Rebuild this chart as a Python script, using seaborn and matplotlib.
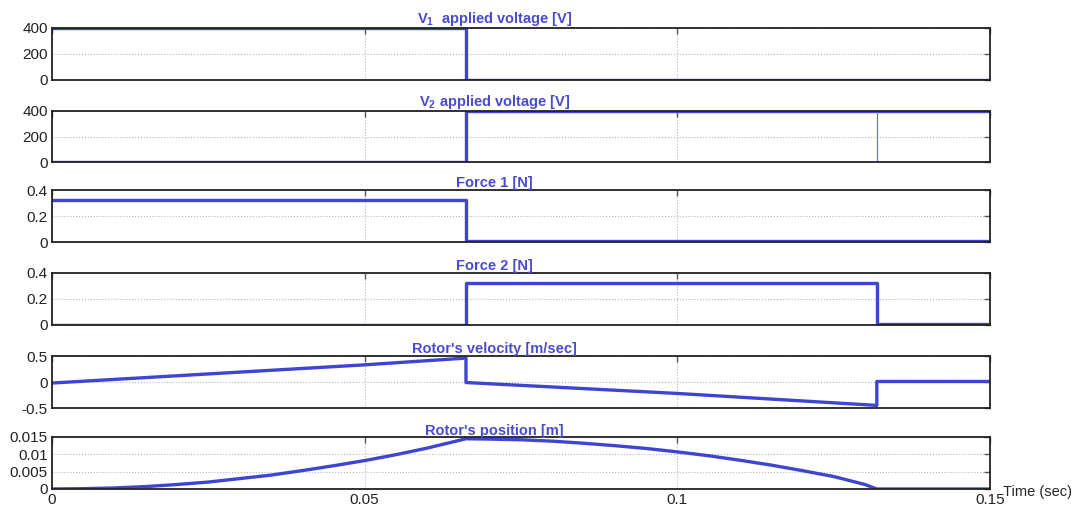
import numpy as np
import pandas as pd
import matplotlib
matplotlib.use('Agg')
import matplotlib.pyplot as plt
import seaborn as sns

# switching instants (sec)
t_on = 0.0662
t_off = 0.1319
t_end = 0.15

# V1 / V2 applied voltage (steps)
v1_t = [0.0, t_on, t_end]
v1 = [400, 0, 0]
v2_t = [0.0, t_on, t_end]
v2 = [0, 400, 400]
# thin glitch trace on V2 at t_off
v2g_t = [t_off, t_off, t_end]
v2g = [400, 0, 0]

# forces (steps)
f1_t = [0.0, t_on, t_end]
f1 = [0.32, 0.01, 0.01]
f2_t = [0.0, t_on, t_off, t_end]
f2 = [0.0, 0.32, 0.01, 0.01]

# rotor velocity
vel_t = [0.0, 0.05, t_on, t_on, 0.1, t_off, t_off, t_end]
vel = [-0.02, 0.33, 0.46, -0.01, -0.22, -0.45, 0.01, 0.01]

# rotor position
pos_t = [0.0, 0.005, 0.01, 0.015, 0.02, 0.025, 0.03, 0.035, 0.04, 0.045, 0.05,
         0.055, 0.06, t_on, 0.07, 0.075, 0.08, 0.085, 0.09, 0.095, 0.10, 0.105,
         0.11, 0.115, 0.12, 0.125, 0.13, t_off, t_end]
pos = [0.0, 0.0001, 0.0003, 0.0007, 0.0013, 0.002, 0.003, 0.004, 0.0053,
       0.0067, 0.0082, 0.0099, 0.0118, 0.0145, 0.0144, 0.0142, 0.0138, 0.0132,
       0.0125, 0.0117, 0.0107, 0.0096, 0.0083, 0.0069, 0.0053, 0.0036, 0.0013,
       0.0, 0.0]

titles = [r'$\mathbf{V_1}$  applied voltage [V]', r'$\mathbf{V_2}$ applied voltage [V]',
          'Force 1 [N]', 'Force 2 [N]', "Rotor's velocity [m/sec]", "Rotor's position [m]"]
ylims = [(0, 400), (0, 400), (0, 0.4), (0, 0.4), (-0.5, 0.5), (0, 0.015)]
yticks = [[0, 200, 400], [0, 200, 400], [0, 0.2, 0.4], [0, 0.2, 0.4],
          [-0.5, 0, 0.5], [0, 0.005, 0.01, 0.015]]
yticklabels = [['0', '200', '400'], ['0', '200', '400'], ['0', '0.2', '0.4'],
               ['0', '0.2', '0.4'], ['-0.5', '0', '0.5'], ['0', '0.005', '0.01', '0.015']]
xticks = [0, 0.05, 0.1, 0.15]
xticklabels = ['0', '0.05', '0.1', '0.15']

sns.set_style('white')
plt.rcParams['font.family'] = ['Liberation Sans', 'DejaVu Sans']
plt.rcParams['mathtext.fontset'] = 'custom'
plt.rcParams['mathtext.rm'] = 'Liberation Sans'
plt.rcParams['mathtext.bf'] = 'Liberation Sans:bold'

blue = '#3f45d0'
title_blue = '#4a4ccc'

W, H = 1077, 508
fig = plt.figure(figsize=(W / 100, H / 100), dpi=100)

# panel top/bottom in pixels
panels = [(28, 80), (111, 162), (190, 242), (273, 325), (356, 408), (437, 489)]
x0, x1 = 52, 990

series = [
    (v1_t, v1, 'steps-post'),
    (v2_t, v2, 'steps-post'),
    (f1_t, f1, 'steps-post'),
    (f2_t, f2, 'steps-post'),
    (vel_t, vel, 'default'),
    (pos_t, pos, 'default'),
]

for i, (top, bot) in enumerate(panels):
    ax = fig.add_axes([x0 / W, 1 - bot / H, (x1 - x0) / W, (bot - top) / H])
    t, y, ds = series[i]
    sns.lineplot(x=t, y=y, ax=ax, color=blue, lw=2.4, drawstyle=ds,
                 estimator=None, sort=False)
    if i == 1:
        sns.lineplot(x=v2g_t, y=v2g, ax=ax, color='#7070ee', lw=0.9,
                     estimator=None, sort=False)
    ax.set_xlim(0, t_end)
    ax.set_ylim(*ylims[i])
    ax.set_yticks(yticks[i])
    ax.set_yticklabels(yticklabels[i], fontsize=11, color='#222222')
    ax.set_xticks(xticks)
    if i == len(panels) - 1:
        ax.set_xticklabels(xticklabels, fontsize=11, color='#222222')
    else:
        ax.set_xticklabels([])
    ax.grid(True, ls=':', color='#b8b8b8', lw=0.8)
    ax.tick_params(direction='in', length=4, width=1, color='#555555',
                   top=True, right=True, pad=3)
    for s in ax.spines.values():
        s.set_color('#222222')
        s.set_linewidth(1.3)
    ax.set_title(titles[i], fontsize=10.5, fontweight='bold', color=title_blue,
                 x=0.472, pad=1.5)

fig.text(1003 / W, 1 - 492 / H, 'Time (sec)', fontsize=10.5, va='center', ha='left')

fig.savefig('out.png', dpi=100)
